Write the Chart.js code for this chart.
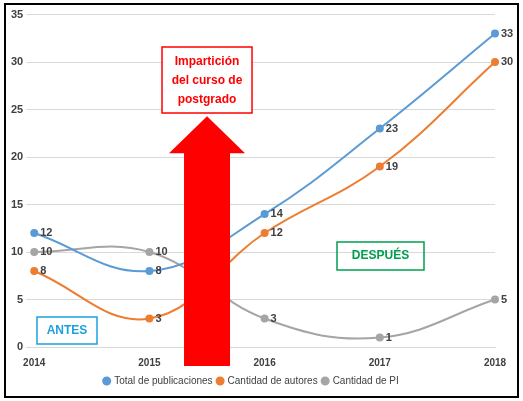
<!DOCTYPE html>
<html><head><meta charset="utf-8">
<script src="https://cdn.jsdelivr.net/npm/chart.js@4/dist/chart.umd.min.js"></script>
<style>
html,body{margin:0;padding:0;background:#fff;}
#wrap{position:absolute;left:4px;top:3px;width:511px;height:391px;border:2px solid #000;}
</style></head><body>
<div id="wrap"><canvas id="c"></canvas></div>
<script>
const years = ['2014', '2015', '2016', '2017', '2018'];
const publicaciones = [12, 8, 14, 23, 33];
const autores = [8, 3, 12, 19, 30];
const pi = [10, 10, 3, 1, 5];
const yTicks = [0, 5, 10, 15, 20, 25, 30, 35];

const valueLabels = {
  id: 'valueLabels',
  afterDatasetsDraw(chart) {
    const ctx = chart.ctx;
    ctx.save();
    ctx.font = 'bold 11px "Liberation Sans", Arial';
    ctx.fillStyle = '#404040';
    ctx.textBaseline = 'middle';
    chart.data.datasets.forEach((ds, i) => {
      chart.getDatasetMeta(i).data.forEach((pt, j) => {
        ctx.fillText(ds.data[j], pt.x + 6, pt.y);
      });
    });
    ctx.restore();
  }
};

const annotations = {
  id: 'annotations',
  afterDraw(chart) {
    const ctx = chart.ctx;
    const x = chart.scales.x, y = chart.scales.y;
    const cx = (x.getPixelForValue(1) + x.getPixelForValue(2)) / 2;
    const tip = y.getPixelForValue(24.3);
    const headBase = y.getPixelForValue(20.4);
    const bottom = y.getPixelForValue(0) + 19;
    ctx.save();
    ctx.fillStyle = '#ff0000';
    ctx.beginPath();
    ctx.moveTo(cx, tip);
    ctx.lineTo(cx + 38, headBase);
    ctx.lineTo(cx + 23, headBase);
    ctx.lineTo(cx + 23, bottom);
    ctx.lineTo(cx - 23, bottom);
    ctx.lineTo(cx - 23, headBase);
    ctx.lineTo(cx - 38, headBase);
    ctx.closePath();
    ctx.fill();
    // red box
    ctx.strokeStyle = '#ff0000';
    ctx.lineWidth = 1.5;
    ctx.fillStyle = '#fff';
    ctx.fillRect(cx - 45, 42, 90, 66);
    ctx.strokeRect(cx - 45, 42, 90, 66);
    ctx.fillStyle = '#ff0000';
    ctx.font = 'bold 12px "Liberation Sans", Arial';
    ctx.textAlign = 'center';
    ctx.textBaseline = 'middle';
    ['Impartición', 'del curso de', 'postgrado'].forEach((t, i) => ctx.fillText(t, cx, 57 + i * 19));
    // ANTES
    ctx.strokeStyle = '#1ea0e0';
    ctx.strokeRect(31, 312, 60, 27);
    ctx.fillStyle = '#1ea0e0';
    ctx.fillText('ANTES', 61, 326);
    // DESPUÉS
    ctx.strokeStyle = '#00a050';
    ctx.strokeRect(331, 237, 87, 28);
    ctx.fillStyle = '#00a050';
    ctx.fillText('DESPUÉS', 374.5, 251);
    ctx.restore();
  }
};

const mk = (label, data, color) => ({
  label, data, borderColor: color, backgroundColor: color,
  borderWidth: 2, pointRadius: 3, pointHoverRadius: 3, tension: 0.4
});

new Chart(document.getElementById('c'), {
  type: 'line',
  data: {
    labels: years,
    datasets: [
      mk('Total de publicaciones', publicaciones, '#5b9bd5'),
      mk('Cantidad de autores', autores, '#ed7d31'),
      mk('Cantidad de PI', pi, '#a5a5a5')
    ]
  },
  options: {
    responsive: true, maintainAspectRatio: false, animation: false,
    layout: { padding: { left: 2, right: 22, top: 6, bottom: 0 } },
    scales: {
      x: {
        type: 'category', offset: false,
        grid: { display: false },
        border: { color: '#d9d9d9' },
        ticks: { padding: 2, color: '#404040', font: { size: 10, weight: 'bold', family: '"Liberation Sans", Arial' } }
      },
      y: {
        min: 0, max: 35,
        afterBuildTicks: (s) => { s.ticks = yTicks.map(v => ({ value: v })); },
        grid: { color: '#d9d9d9' },
        border: { display: false },
        ticks: { color: '#404040', font: { size: 11, weight: 'bold', family: '"Liberation Sans", Arial' } }
      }
    },
    plugins: {
      tooltip: { enabled: false },
      legend: {
        position: 'bottom',
        labels: { usePointStyle: true, pointStyle: 'circle', boxWidth: 5, boxHeight: 5, padding: 5, color: '#404040',
          font: { size: 10, family: '"Liberation Sans", Arial' } }
      }
    }
  },
  plugins: [valueLabels, annotations]
});
</script></body></html>
